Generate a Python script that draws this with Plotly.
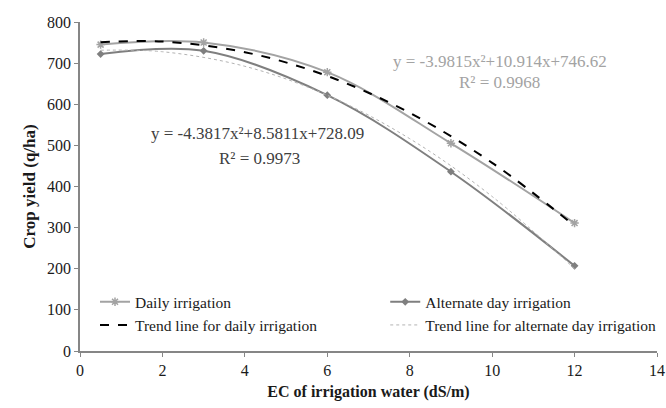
import plotly.graph_objects as go

ec = [0.5, 3, 6, 9, 12]
daily = [745, 750, 678, 505, 311]
alternate = [722, 730, 622, 436, 207]

trend_x = [0.5, 2, 4, 6, 8, 10, 12]
trend_daily = [751, 752.5, 726.6, 668.8, 579.1, 457.6, 304.3]
trend_alt = [731.3, 727.7, 692.3, 621.9, 516.3, 375.7, 200.1]

eq_daily = ["y = -3.9815x²+10.914x+746.62", "R² = 0.9968"]
eq_alt = ["y = -4.3817x²+8.5811x+728.09", "R² = 0.9973"]

FONT = "Liberation Serif"
TXT = "#1a1a1a"

fig = go.Figure()
fig.add_trace(go.Scatter(x=ec, y=daily, name="Daily irrigation", mode="lines+markers", legend="legend",
                         line=dict(color="#a3a3a3", width=2, shape="spline"),
                         marker=dict(symbol="asterisk-open", size=7, color="#a3a3a3",
                                     line=dict(color="#a3a3a3", width=1.5))))
fig.add_trace(go.Scatter(x=trend_x, y=trend_daily, name="Trend line for daily irrigation", mode="lines",
                         legend="legend",
                         line=dict(color="#000000", width=2, dash="dash", shape="spline")))
fig.add_trace(go.Scatter(x=ec, y=alternate, name="Alternate day irrigation", mode="lines+markers",
                         legend="legend2",
                         line=dict(color="#7f7f7f", width=2, shape="spline"),
                         marker=dict(symbol="diamond", size=6, color="#7f7f7f")))
fig.add_trace(go.Scatter(x=trend_x, y=trend_alt, name="Trend line for alternate day irrigation", mode="lines",
                         legend="legend2",
                         line=dict(color="#b3b3b3", width=1, dash="dot", shape="spline")))

fig.add_annotation(x=10.18, y=703, text=eq_daily[0], showarrow=False,
                   font=dict(family=FONT, size=17, color="#a3a3a3"))
fig.add_annotation(x=10.18, y=654, text=eq_daily[1], showarrow=False,
                   font=dict(family=FONT, size=17, color="#a3a3a3"))
fig.add_annotation(x=4.30, y=528, text=eq_alt[0], showarrow=False,
                   font=dict(family=FONT, size=17, color="#404040"))
fig.add_annotation(x=4.36, y=469, text=eq_alt[1], showarrow=False,
                   font=dict(family=FONT, size=17, color="#404040"))

axis_common = dict(showgrid=False, zeroline=False, showline=True, linecolor="#868686", linewidth=1.5,
                   ticks="outside", ticklen=4, tickcolor="#868686",
                   tickfont=dict(family=FONT, size=16, color=TXT))
fig.update_xaxes(range=[0, 14], dtick=2, tick0=0,
                 title=dict(text="<b>EC of irrigation water (dS/m)</b>",
                            font=dict(family=FONT, size=16, color=TXT), standoff=8),
                 **axis_common)
fig.update_yaxes(range=[0, 800], dtick=100, tick0=0,
                 title=dict(text="<b>Crop yield (q/ha)</b>",
                            font=dict(family=FONT, size=17, color=TXT), standoff=7),
                 **axis_common)

leg_common = dict(orientation="v", yanchor="top", xanchor="left", bgcolor="rgba(0,0,0,0)",
                  font=dict(family=FONT, size=15.5, color=TXT), tracegroupgap=0,
                  itemwidth=30, borderwidth=0)
fig.update_layout(
    width=666, height=408,
    margin=dict(l=80, r=9, t=22, b=57, autoexpand=False),
    plot_bgcolor="white", paper_bgcolor="white",
    font=dict(family=FONT, size=16, color=TXT),
    legend=dict(x=0.026, y=0.20, **leg_common),
    legend2=dict(x=0.529, y=0.20, **leg_common),
)

fig.write_html("out.html", config={"displayModeBar": False},
               post_script="document.body.style.margin='0';document.body.style.overflow='hidden';")
